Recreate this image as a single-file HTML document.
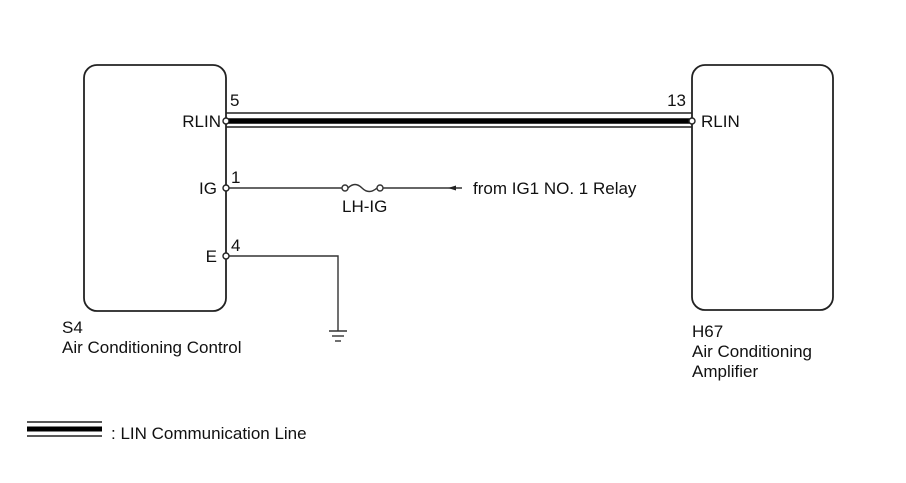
<!DOCTYPE html>
<html><head><meta charset="utf-8"><style>
html,body{margin:0;padding:0;background:#fff;}
svg{display:block;}
text{font-family:"Liberation Sans",Arial,sans-serif;fill:#111;font-size:17px;}
</style></head><body>
<svg width="906" height="483" viewBox="0 0 906 483" xmlns="http://www.w3.org/2000/svg">
<g fill="none" stroke="#222" stroke-width="1.8">
<rect x="84" y="65" width="142" height="246" rx="13"/>
<rect x="692" y="65" width="141" height="245" rx="13"/>
</g>
<line x1="226" y1="113" x2="692" y2="113" stroke="#222" stroke-width="1.4"/>
<line x1="226" y1="127" x2="692" y2="127" stroke="#222" stroke-width="1.4"/>
<line x1="226" y1="121" x2="692" y2="121" stroke="#000" stroke-width="5.5"/>
<line x1="226" y1="188" x2="342" y2="188" stroke="#333" stroke-width="1.4"/>
<path d="M348 188 Q355 181 362 188 Q369 195 377 188" fill="none" stroke="#333" stroke-width="1.4"/>
<line x1="383" y1="188" x2="462" y2="188" stroke="#333" stroke-width="1.4"/>
<polygon points="448,188 456,185.5 456,190.5" fill="#222"/>
<circle cx="345" cy="188" r="3" fill="#fff" stroke="#333" stroke-width="1.4"/>
<circle cx="380" cy="188" r="3" fill="#fff" stroke="#333" stroke-width="1.4"/>
<polyline points="226,256 338,256 338,331" fill="none" stroke="#333" stroke-width="1.4"/>
<line x1="329" y1="331" x2="347" y2="331" stroke="#333" stroke-width="1.4"/>
<line x1="332" y1="336" x2="344" y2="336" stroke="#333" stroke-width="1.4"/>
<line x1="335" y1="341" x2="341" y2="341" stroke="#333" stroke-width="1.4"/>
<g fill="#fff" stroke="#222" stroke-width="1.4">
<circle cx="226" cy="121" r="3"/>
<circle cx="226" cy="188" r="3"/>
<circle cx="226" cy="256" r="3"/>
<circle cx="692" cy="121" r="3"/>
</g>
<text x="230" y="106">5</text>
<text x="221" y="127" text-anchor="end">RLIN</text>
<text x="231" y="183">1</text>
<text x="217" y="194" text-anchor="end">IG</text>
<text x="231" y="251">4</text>
<text x="217" y="262" text-anchor="end">E</text>
<text x="342" y="212">LH-IG</text>
<text x="473" y="194">from IG1 NO. 1 Relay</text>
<text x="686" y="106" text-anchor="end">13</text>
<text x="701" y="127">RLIN</text>
<text x="62" y="333">S4</text>
<text x="62" y="353">Air Conditioning Control</text>
<text x="692" y="337">H67</text>
<text x="692" y="357">Air Conditioning</text>
<text x="692" y="377">Amplifier</text>
<line x1="27" y1="422" x2="102" y2="422" stroke="#222" stroke-width="1.4"/>
<line x1="27" y1="436" x2="102" y2="436" stroke="#222" stroke-width="1.4"/>
<line x1="27" y1="429" x2="102" y2="429" stroke="#000" stroke-width="5"/>
<text x="111" y="439">: LIN Communication Line</text>
</svg>
</body></html>
